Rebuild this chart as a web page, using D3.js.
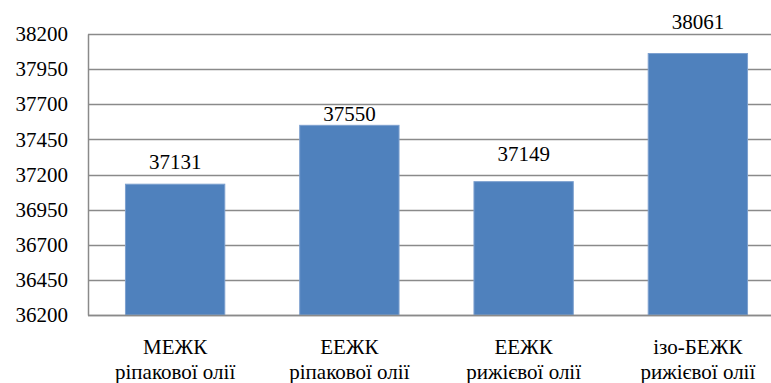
<!DOCTYPE html>
<html>
<head>
<meta charset="utf-8">
<script src="https://cdn.jsdelivr.net/npm/d3@7"></script>
</head>
<body style="margin:0">
<svg id="chart" width="771" height="383"></svg>
<script>
// Energy values for each ester sample
const categoriesTop = ["МЕЖК", "ЕЕЖК", "ЕЕЖК", "ізо-БЕЖК"];
const categoriesBottom = ["ріпакової олії", "ріпакової олії", "рижієвої олії", "рижієвої олії"];
const values = [37131, 37550, 37149, 38061];
const yTicks = [36200, 36450, 36700, 36950, 37200, 37450, 37700, 37950, 38200];

// layout
const FONT = "Liberation Serif";
const FS = 21;
const labelGap = [15, 4, 21, 25]; // distance from bar top to label baseline
const plotLeft = 88, plotRight = 785, plotTop = 34, plotBottom = 315;
const gridColor = "#8a8a8a";

const svg = d3.select("#chart")
  .attr("font-family", FONT)
  .attr("font-size", FS);

const x = d3.scaleBand()
  .domain(d3.range(values.length))
  .range([plotLeft, plotRight])
  .paddingInner(0.43)
  .paddingOuter(0.215);

const y = d3.scaleLinear()
  .domain([36200, 38200])
  .range([plotBottom, plotTop]);

// horizontal gridlines
svg.append("g")
  .selectAll("line")
  .data(yTicks)
  .join("line")
  .attr("x1", plotLeft).attr("x2", 771)
  .attr("y1", d => Math.round(y(d)) + 0.5)
  .attr("y2", d => Math.round(y(d)) + 0.5)
  .attr("stroke", gridColor)
  .attr("stroke-width", 1.5);

// y axis
const yAxis = svg.append("g")
  .attr("transform", `translate(${plotLeft},0)`)
  .call(d3.axisLeft(y).tickValues(yTicks).tickSize(0).tickPadding(20).tickFormat(d3.format("d")))
  .attr("font-family", FONT)
  .attr("font-size", FS);
yAxis.select(".domain").attr("stroke", gridColor).attr("stroke-width", 1.5);
yAxis.selectAll("text")
  .attr("font-family", FONT)
  .attr("font-size", FS)
  .attr("fill", "#000");

// bars
svg.append("g")
  .selectAll("rect")
  .data(values)
  .join("rect")
  .attr("x", (d, i) => x(i))
  .attr("width", x.bandwidth())
  .attr("y", d => y(d))
  .attr("height", d => plotBottom - y(d))
  .attr("fill", "#4F81BD")
  .attr("stroke", "#7da0cf")
  .attr("stroke-width", 1);

// x axis line
svg.append("line")
  .attr("x1", plotLeft).attr("x2", 771)
  .attr("y1", plotBottom + 0.5).attr("y2", plotBottom + 0.5)
  .attr("stroke", gridColor)
  .attr("stroke-width", 1.5);

// value labels
svg.append("g")
  .selectAll("text")
  .data(values)
  .join("text")
  .attr("x", (d, i) => x(i) + x.bandwidth() / 2)
  .attr("y", (d, i) => y(d) - labelGap[i])
  .attr("text-anchor", "middle")
  .attr("font-family", FONT)
  .attr("font-size", FS)
  .attr("fill", "#000")
  .text(d => d);

// category labels (two lines)
const cat = svg.append("g")
  .selectAll("text")
  .data(values)
  .join("text")
  .attr("text-anchor", "middle")
  .attr("font-family", FONT)
  .attr("font-size", FS)
  .attr("fill", "#000");
cat.append("tspan")
  .attr("x", (d, i) => x(i) + x.bandwidth() / 2)
  .attr("y", 354)
  .text((d, i) => categoriesTop[i]);
cat.append("tspan")
  .attr("x", (d, i) => x(i) + x.bandwidth() / 2)
  .attr("y", 379)
  .text((d, i) => categoriesBottom[i]);
</script>
</body>
</html>
